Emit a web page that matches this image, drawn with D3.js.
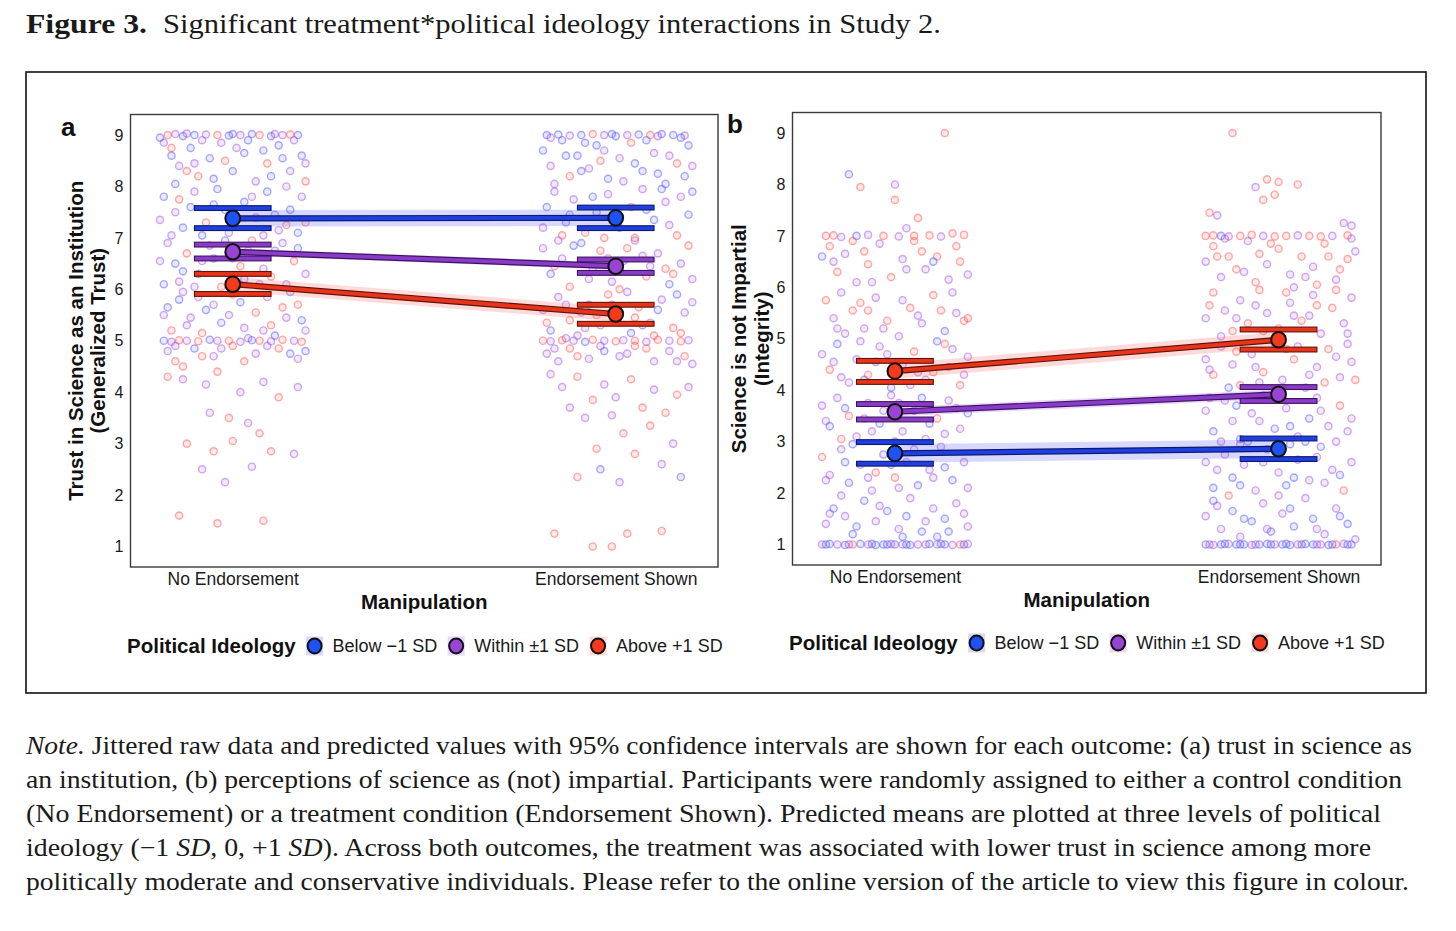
<!DOCTYPE html>
<html>
<head>
<meta charset="utf-8">
<script src="https://cdn.jsdelivr.net/npm/d3@7"></script>
<style>
  body { margin: 0; background: #fff; }
  svg { display: block; }
</style>
</head>
<body>
<svg id="fig"></svg>
<script>
const width = 1456,
  height = 931;

// categories
const conditionLabels = ["No Endorsement", "Endorsement Shown"];
const conditionValues = [1, 2];
const groupLabels = ["Below \u22121 SD", "Within \u00b11 SD", "Above +1 SD"];
const yTicks = [1, 2, 3, 4, 5, 6, 7, 8, 9];

// panel a: predicted means, error-bar ends and ribbon limits [NE, ES] per group (blue, purple, red)
const trustMeans = [[7.38, 7.39], [6.73, 6.45], [6.10, 5.52]];
const trustErrLo = [[7.19, 7.19], [6.60, 6.32], [5.91, 5.33]];
const trustErrHi = [[7.58, 7.59], [6.87, 6.58], [6.30, 5.70]];
const trustBandLo = [[7.22, 7.23], [6.66, 6.38], [5.96, 5.38]];
const trustBandHi = [[7.54, 7.55], [6.80, 6.52], [6.24, 5.66]];

// panel b
const impartMeans = [[2.77, 2.86], [3.58, 3.92], [4.37, 4.98]];
const impartErrLo = [[2.57, 2.66], [3.43, 3.79], [4.16, 4.79]];
const impartErrHi = [[2.99, 3.06], [3.73, 4.06], [4.57, 5.18]];
const impartBandLo = [[2.59, 2.68], [3.49, 3.83], [4.22, 4.83]];
const impartBandHi = [[2.95, 3.04], [3.67, 4.01], [4.52, 5.13]];

// jittered raw responses: [jittered condition, value, group]
const trustRaw = [
  [0.83,9,2],[0.85,9.02,1],[0.87,8.98,0],[0.9,9,0],[0.93,9.01,1],[0.96,9,2],[0.99,8.99,0],[1.02,9,1],[1.05,9.02,0],[1.07,9,2],[1.1,8.98,0],[1.13,9,1],[1.15,9.01,2],[1.17,9,0],[0.88,9.03,1],[1.0,9.02,0],[1.11,9.02,1],
  [0.82,8.85,1],[0.84,8.6,0],[0.86,8.4,1],[0.89,8.75,0],[0.91,8.2,2],[0.94,8.55,0],[0.97,8.85,1],[1.0,8.3,0],[1.03,8.65,0],[1.06,8.1,1],[1.09,8.45,2],[1.12,8.8,0],[1.15,8.3,1],[1.18,8.6,0],[0.85,8.05,0],[0.92,8.9,1],[0.98,8.5,2],[1.04,8.9,0],[1.1,8.2,0],[1.16,8.9,1],[0.88,8.3,2],[1.01,8.75,1],[1.13,8.55,0],[1.19,8.1,2],
  [0.81,8.95,0],[0.84,8.75,2],[0.9,8.45,1],[0.95,8.15,0],[1.08,8.7,0],[1.14,8.0,1],[1.19,8.45,1],
  [0.82,7.8,0],[0.85,7.5,1],[0.87,7.2,0],[0.9,7.9,1],[0.93,7.3,2],[0.95,7.65,0],[0.99,7.1,1],[1.03,7.7,0],[1.06,7.4,2],[1.09,7.9,0],[1.12,7.15,1],[1.15,7.55,0],[1.18,7.8,1],[0.84,7.05,1],[0.96,7.95,0],[1.01,7.35,0],[1.08,7.05,1],[1.14,7.25,2],[1.17,7.1,0],[0.89,7.6,0],
  [0.81,7.35,1],[0.86,7.75,2],[0.92,7.05,0],[0.98,7.55,1],[1.05,7.8,1],[1.11,7.45,0],[1.19,7.3,2],
  [0.83,6.9,1],[0.85,6.5,0],[0.86,6.15,1],[0.88,6.7,2],[0.91,6.3,0],[0.94,6.85,1],[0.97,6.05,2],[1.0,6.6,1],[1.03,6.2,0],[1.05,6.95,2],[1.08,6.4,1],[1.11,6.75,0],[1.14,6.1,1],[1.16,6.55,2],[1.19,6.3,1],[0.82,6.1,0],[0.92,6.55,1],[1.02,6.45,2],[1.07,6.1,1],[1.13,6.9,1],[0.98,6.95,0],
  [0.81,6.55,1],[0.87,6.35,0],[0.9,6.05,1],[0.95,6.6,0],[1.04,6.75,1],[1.1,6.25,2],[1.17,6.8,0],
  [0.82,5.5,1],[0.84,5.2,2],[0.86,5.8,0],[0.89,5.45,1],[0.92,5.15,2],[0.95,5.7,1],[0.97,5.35,0],[1.0,5.9,2],[1.03,5.25,1],[1.06,5.55,2],[1.09,5.85,1],[1.11,5.1,0],[1.14,5.45,1],[1.17,5.7,2],[1.19,5.2,1],[0.87,5.95,1],[0.93,5.6,0],[1.04,5.05,1],[1.1,5.3,2],[1.15,5.95,0],
  [0.83,5.65,0],[0.88,5.3,1],[0.91,5.85,1],[0.99,5.5,1],[1.02,5.75,0],[1.08,5.2,1],[1.13,5.65,2],[1.18,5.4,0],
  [0.82,5,0],[0.84,4.98,1],[0.86,5.01,2],[0.88,5,1],[0.91,4.99,2],[0.94,5.02,0],[0.96,5,1],[0.99,5,2],[1.02,4.98,1],[1.05,5.01,0],[1.07,5,2],[1.1,4.99,1],[1.13,5.02,2],[1.16,5,1],[1.18,4.98,2],
  [0.83,4.8,1],[0.85,4.6,2],[0.9,4.85,0],[0.95,4.7,1],[1.0,4.9,2],[1.06,4.75,1],[1.12,4.85,2],[1.17,4.65,1],[1.19,4.8,0],[0.87,4.5,2],
  [0.85,4.9,1],[0.92,4.7,2],[0.97,4.85,1],[1.03,4.6,2],[1.09,4.9,1],[1.15,4.75,0],
  [0.83,4.3,2],[0.87,4.25,1],[0.93,4.15,1],[0.96,4.4,2],[1.02,4.0,1],[1.08,4.2,1],[1.12,3.9,2],[1.17,4.1,1],[0.94,3.6,1],[0.99,3.5,2],[1.04,3.4,1],[0.88,3.0,2],[1.0,3.05,2],[1.07,3.2,2],[0.95,2.85,2],[1.1,2.85,2],[1.16,2.8,1],[0.92,2.5,1],[1.05,2.55,1],[0.98,2.25,1],[0.86,1.6,2],[0.96,1.45,2],[1.08,1.5,2],
  [1.82,9,0],[1.85,9.01,0],[1.88,8.99,1],[1.91,9,0],[1.94,9.02,2],[1.97,9,1],[2.0,8.98,0],[2.03,9,1],[2.06,9.01,0],[2.09,9,2],[2.12,9.02,0],[2.15,9,0],[2.18,8.99,1],[1.99,9.02,0],[2.11,8.98,1],
  [1.81,8.7,0],[1.83,8.4,1],[1.86,8.9,0],[1.88,8.2,2],[1.9,8.6,0],[1.93,8.35,1],[1.95,8.8,0],[1.98,8.15,0],[2.01,8.55,1],[2.04,8.85,2],[2.07,8.3,0],[2.1,8.65,1],[2.13,8.05,0],[2.16,8.45,2],[2.19,8.8,0],[1.84,8.05,1],[1.92,8.85,0],[2.02,8.1,1],[2.08,8.9,0],[2.14,8.6,1],[2.18,8.2,0],[1.96,8.5,2],
  [1.83,8.95,1],[1.87,8.6,0],[1.91,8.3,0],[1.97,8.7,1],[2.05,8.45,0],[2.11,8.25,0],[2.17,8.95,0],[2.2,8.4,1],
  [1.82,7.6,0],[1.84,7.9,1],[1.87,7.3,0],[1.89,7.75,1],[1.92,7.1,2],[1.95,7.5,0],[1.98,7.85,1],[2.01,7.2,0],[2.04,7.6,2],[2.07,7.95,1],[2.1,7.35,0],[2.13,7.7,1],[2.16,7.05,2],[2.19,7.45,0],[1.86,7.05,2],[1.97,7.0,2],[2.05,7.0,2],[2.12,7.95,0],[2.17,7.8,1],
  [1.81,7.2,1],[1.88,7.45,0],[1.94,7.8,0],[2.0,7.4,1],[2.08,7.55,0],[2.14,7.25,1],[2.2,7.9,0],
  [1.81,6.8,1],[1.83,6.3,0],[1.86,6.6,1],[1.88,6.05,2],[1.91,6.9,0],[1.94,6.4,1],[1.96,6.75,2],[1.99,6.15,1],[2.02,6.55,0],[2.05,6.95,1],[2.08,6.25,2],[2.11,6.7,1],[2.14,6.1,0],[2.17,6.5,1],[2.19,6.85,2],[1.85,6.95,1],[1.93,6.2,1],[2.03,6.8,2],[2.09,6.45,1],[2.15,6.3,2],
  [1.84,6.45,2],[1.89,6.85,0],[1.98,6.6,1],[2.01,6.0,2],[2.07,6.65,1],[2.13,6.4,2],[2.2,6.2,1],
  [1.81,5.6,1],[1.83,5.2,0],[1.85,5.85,1],[1.88,5.4,2],[1.9,5.1,1],[1.93,5.7,0],[1.96,5.3,1],[1.98,5.9,2],[2.01,5.5,1],[2.04,5.15,0],[2.06,5.65,2],[2.09,5.35,1],[2.12,5.8,1],[2.15,5.25,2],[2.18,5.55,1],[1.87,5.05,1],[1.95,5.5,2],[2.03,5.95,1],[2.1,5.1,2],[2.16,5.9,0],[1.91,5.55,1],[2.07,5.3,0],
  [1.82,5.35,2],[1.87,5.7,1],[1.92,5.25,1],[1.99,5.7,1],[2.05,5.45,2],[2.11,5.6,0],[2.17,5.15,2],[2.2,5.75,1],
  [1.81,5,2],[1.83,4.99,1],[1.86,5.01,2],[1.89,5,1],[1.92,4.98,0],[1.94,5.02,2],[1.97,5,1],[2.0,4.99,2],[2.02,5.01,1],[2.05,5,2],[2.08,4.98,1],[2.11,5.02,2],[2.14,5,1],[2.17,4.99,2],[2.19,5.01,1],
  [1.82,4.75,1],[1.85,4.6,1],[1.88,4.85,2],[1.93,4.65,1],[1.97,4.8,0],[2.01,4.7,1],[2.05,4.9,2],[2.1,4.6,1],[2.14,4.8,1],[2.18,4.7,2],[2.2,4.55,1],
  [1.84,4.85,1],[1.9,4.7,2],[1.96,4.9,1],[2.03,4.75,1],[2.08,4.85,2],[2.16,4.6,1],
  [1.83,4.35,1],[1.86,4.1,1],[1.9,4.3,2],[1.94,3.85,2],[1.97,4.15,1],[2.0,3.9,1],[2.04,4.25,2],[2.07,3.7,2],[2.1,4.05,1],[2.13,3.6,2],[2.16,3.95,2],[2.19,4.1,1],[1.88,3.7,1],[1.92,3.5,1],[1.99,3.55,1],[2.02,3.2,2],[2.09,3.35,2],[2.15,3.0,1],[1.95,2.9,2],[2.05,2.8,2],[2.12,2.6,1],[1.96,2.5,0],[2.01,2.25,1],[2.17,2.35,0],[1.9,2.35,2],[1.84,1.25,2],[1.94,1.0,2],[1.99,1.0,2],[2.03,1.25,2],[2.12,1.3,2]
];

const impartRaw = [
  [0.88,8.2,0],[0.91,7.95,2],[1.0,8.0,1],[1.0,7.7,2],[1.13,9,2],[1.06,7.35,2],[1.03,7.15,1],
  [0.82,7,2],[0.84,7.01,2],[0.86,6.98,1],[0.9,7,0],[0.93,7.02,1],[0.97,7,2],[1.01,6.99,1],[1.05,7,2],[1.09,7.01,2],[1.12,6.99,1],[1.15,7.05,2],[1.18,7.02,2],
  [0.81,6.6,0],[0.83,6.8,2],[0.85,6.3,2],[0.87,6.65,1],[0.9,6.1,1],[0.93,6.45,2],[0.96,6.85,1],[0.99,6.2,2],[1.02,6.55,1],[1.05,6.9,2],[1.08,6.35,1],[1.11,6.6,2],[1.14,6.15,1],[1.17,6.5,2],[1.19,6.25,1],[0.89,6.9,2],[1.07,6.7,2],[1.1,6.5,0],[0.94,6.1,1],
  [0.84,6.5,1],[0.92,6.7,2],[1.03,6.35,1],[1.16,6.8,2],
  [0.82,5.75,2],[0.84,5.4,1],[0.87,5.1,1],[0.89,5.55,2],[0.92,5.2,1],[0.95,5.8,1],[0.98,5.35,2],[1.01,5.05,1],[1.04,5.6,2],[1.07,5.3,1],[1.1,5.85,2],[1.13,5.15,0],[1.16,5.5,1],[1.19,5.4,2],[0.86,5.9,1],[0.93,5.55,2],[1.02,5.75,1],[1.12,5.55,2],[1.18,5.35,2],[0.97,5.2,1],
  [0.85,5.2,1],[0.91,5.7,2],[1.06,5.45,1],[1.15,5.9,1],
  [0.81,4.7,1],[0.83,4.4,2],[0.85,4.9,0],[0.88,4.15,1],[0.9,4.6,1],[0.93,4.3,2],[0.96,4.85,1],[0.99,4.05,0],[1.02,4.5,1],[1.05,4.75,2],[1.08,4.2,1],[1.11,4.95,0],[1.14,4.45,1],[1.17,4.1,2],[1.19,4.65,1],[0.86,4.25,1],[0.95,4.55,0],[1.04,4.1,1],[1.1,4.35,2],[1.15,4.8,1],[0.91,4.95,1],
  [0.84,4.55,1],[0.92,4.2,0],[0.98,4.7,1],[1.06,4.35,1],[1.13,4.9,2],[1.18,4.3,1],
  [0.81,3.7,1],[0.83,3.3,0],[0.85,3.85,1],[0.88,3.5,2],[0.9,3.1,1],[0.93,3.75,1],[0.96,3.35,0],[0.99,3.9,1],[1.02,3.2,1],[1.05,3.6,0],[1.08,3.05,1],[1.11,3.45,2],[1.14,3.8,1],[1.17,3.25,1],[1.19,3.55,0],[0.86,3.05,2],[0.97,3.6,1],[1.07,3.85,0],[1.13,3.15,1],[0.92,3.45,1],[1.0,3.0,0],
  [0.82,3.4,1],[0.87,3.65,0],[0.94,3.2,1],[1.01,3.75,1],[1.09,3.35,0],[1.16,3.65,1],
  [0.81,2.7,2],[0.83,2.35,1],[0.86,2.85,1],[0.88,2.2,0],[0.91,2.55,1],[0.94,2.05,1],[0.97,2.75,0],[1.0,2.3,2],[1.03,2.6,1],[1.06,2.15,0],[1.09,2.45,1],[1.12,2.9,1],[1.15,2.25,0],[1.18,2.6,1],[0.89,2.95,0],[1.01,2.1,1],[1.1,2.3,1],[0.95,2.4,2],
  [0.82,2.25,1],[0.87,2.6,0],[0.93,2.3,1],[0.99,2.55,0],[1.05,2.85,1],[1.13,2.5,0],[1.19,2.1,1],
  [0.82,1.4,1],[0.84,1.7,0],[0.87,1.55,1],[0.89,1.2,0],[0.92,1.85,0],[0.95,1.45,1],[0.98,1.65,0],[1.01,1.3,1],[1.04,1.9,1],[1.07,1.25,0],[1.1,1.7,1],[1.13,1.5,0],[1.16,1.8,1],[1.19,1.35,1],[0.86,1.95,1],[1.03,1.55,0],[1.11,1.15,0],
  [0.83,1.6,1],[0.9,1.35,0],[0.96,1.75,1],[1.02,1.15,0],[1.08,1.45,1],[1.14,1.25,0],[1.18,1.6,1],
  [0.81,1,1],[0.83,1.01,0],[0.85,1,1],[0.87,0.99,0],[0.89,1,2],[0.91,1.01,0],[0.93,1,1],[0.95,0.99,0],[0.97,1,0],[0.99,1.01,1],[1.0,1,0],[1.02,1,1],[1.04,0.99,0],[1.06,1,1],[1.09,1.01,0],[1.11,1,1],[1.13,1,0],[1.15,0.99,1],[1.17,1,2],[1.19,1.01,1],
  [0.82,1.0,0],[0.88,1.0,1],[0.94,1.01,0],[0.98,1.0,0],[1.03,1.0,0],[1.08,1.0,1],[1.12,1.01,0],[1.18,1.0,0],
  [1.88,9,2],[1.94,7.95,1],[1.97,8.1,2],[2.0,8.05,2],[1.99,7.8,2],[1.96,7.7,2],[2.05,8.0,2],[1.82,7.45,2],[1.84,7.4,1],[2.17,7.25,1],[2.19,7.2,1],
  [1.81,7,2],[1.83,7.01,2],[1.85,7,0],[1.87,6.99,1],[1.9,7,2],[1.93,7.02,2],[1.96,7,1],[1.99,6.99,2],[2.02,7,2],[2.05,7.01,1],[2.08,7,2],[2.11,6.99,2],[2.14,7,1],[2.18,7.01,2],
  [1.81,6.5,1],[1.83,6.8,2],[1.85,6.2,1],[1.87,6.6,2],[1.89,6.35,2],[1.92,6.9,1],[1.94,6.1,2],[1.97,6.45,1],[2.0,6.75,2],[2.03,6.25,1],[2.06,6.6,2],[2.09,6.4,1],[2.12,6.85,2],[2.15,6.15,1],[2.18,6.55,2],[2.2,6.7,1],[1.86,6.95,1],[1.95,6.65,2],[2.04,6.0,1],[2.1,6.05,2],[2.16,6.35,2],
  [1.84,6.6,2],[1.91,6.3,1],[1.98,6.85,2],[2.07,6.2,1],[2.13,6.6,2],[2.19,6.95,1],
  [1.81,5.4,1],[1.83,5.9,2],[1.86,5.55,1],[1.88,5.15,2],[1.9,5.75,1],[1.92,5.3,2],[1.95,5.95,2],[1.97,5.5,1],[2.0,5.2,2],[2.03,5.7,1],[2.06,5.35,2],[2.09,5.85,1],[2.11,5.1,1],[2.14,5.6,2],[2.17,5.3,1],[2.19,5.8,1],[1.85,5.05,1],[1.94,5.65,1],[2.02,5.9,2],[2.08,5.45,1],[2.15,5.95,2],
  [1.82,5.65,2],[1.89,5.4,1],[1.96,5.15,2],[2.04,5.45,1],[2.1,5.65,2],[2.18,5.1,1],
  [1.81,4.6,1],[1.83,4.3,2],[1.85,4.85,1],[1.88,4.5,1],[1.9,4.1,2],[1.93,4.7,1],[1.96,4.35,2],[1.99,4.9,1],[2.01,4.2,1],[2.04,4.6,2],[2.07,4.05,1],[2.1,4.45,1],[2.13,4.8,2],[2.16,4.25,1],[2.19,4.55,1],[1.87,4.05,0],[1.95,4.15,1],[2.05,4.85,1],[2.12,4.15,2],[2.18,4.9,1],
  [1.82,4.4,1],[1.89,4.75,2],[1.94,4.45,1],[2.02,4.8,2],[2.08,4.3,1],[2.15,4.65,1],[2.2,4.2,2],
  [1.81,3.6,1],[1.83,3.2,0],[1.86,3.8,1],[1.88,3.4,1],[1.9,3.05,0],[1.93,3.55,1],[1.96,3.9,1],[1.99,3.25,0],[2.02,3.65,1],[2.05,3.1,1],[2.08,3.45,0],[2.1,3.85,1],[2.13,3.3,1],[2.16,3.7,2],[2.19,3.45,1],[1.85,3.0,1],[1.92,3.0,0],[2.0,3.0,1],[2.07,3.0,0],[2.15,3.0,1],
  [1.82,3.85,1],[1.89,3.7,0],[1.95,3.4,1],[2.03,3.3,0],[2.11,3.6,1],[2.18,3.2,1],
  [1.81,2.6,1],[1.83,2.1,0],[1.86,2.75,1],[1.88,2.3,0],[1.91,2.55,1],[1.94,2.05,1],[1.97,2.85,0],[2.0,2.4,1],[2.02,2.15,0],[2.05,2.65,1],[2.08,2.25,1],[2.11,2.9,0],[2.14,2.45,1],[2.17,2.05,2],[2.19,2.6,1],[1.9,2.95,1],[2.03,2.95,0],[2.12,2.2,1],
  [1.84,2.45,1],[1.9,2.15,0],[1.96,2.6,1],[2.04,2.3,0],[2.1,2.7,1],[2.16,2.35,0],
  [1.81,1.55,1],[1.83,1.85,0],[1.85,1.3,1],[1.88,1.65,0],[1.9,1.15,1],[1.93,1.45,0],[1.96,1.8,1],[1.98,1.25,0],[2.01,1.6,1],[2.04,1.35,0],[2.07,1.9,1],[2.09,1.5,0],[2.12,1.2,1],[2.15,1.7,1],[2.18,1.4,0],[2.2,1.1,1],[1.87,1.95,2],[2.0,1.95,1],
  [1.84,1.75,1],[1.91,1.5,0],[1.97,1.3,1],[2.03,1.7,0],[2.1,1.3,1],[2.16,1.55,0],
  [1.81,1,0],[1.83,0.99,1],[1.85,1,0],[1.87,1.01,1],[1.89,1,0],[1.91,1,0],[1.93,0.99,1],[1.95,1,0],[1.97,1.01,0],[1.99,1,1],[2.01,1,0],[2.03,0.99,0],[2.05,1,1],[2.07,1.01,0],[2.09,1,0],[2.11,1,1],[2.13,0.99,0],[2.15,1,2],[2.17,1.01,1],[2.19,1,0],
  [1.82,1.0,1],[1.86,1.01,0],[1.9,1.0,0],[1.94,1.0,1],[1.98,1.0,0],[2.02,1.01,0],[2.06,1.0,0],[2.1,1.0,1],[2.14,1.0,0],[2.18,1.0,0]
];

// text
const figureLabel = "Figure 3.";
const figureTitle = "Significant treatment*political ideology interactions in Study 2.";
const noteLines = [
  [["Note.", true], [" Jittered raw data and predicted values with 95% confidence intervals are shown for each outcome: (a) trust in science as", false]],
  [["an institution, (b) perceptions of science as (not) impartial. Participants were randomly assigned to either a control condition", false]],
  [["(No Endorsement) or a treatment condition (Endorsement Shown). Predicted means are plotted at three levels of political", false]],
  [["ideology (\u22121 ", false], ["SD", true], [", 0, +1 ", false], ["SD", true], ["). Across both outcomes, the treatment was associated with lower trust in science among more", false]],
  [["politically moderate and conservative individuals. Please refer to the online version of the article to view this figure in colour.", false]]
];

// styles
const dotColor = ["rgba(70,70,255,0.45)", "rgba(150,70,225,0.45)", "rgba(255,70,70,0.45)"];
const dotFill = ["rgba(90,90,255,0.14)", "rgba(160,90,230,0.14)", "rgba(255,90,90,0.14)"];
const mainColor = ["#1f3fe0", "#8a3cc8", "#e8341a"];
const pointFill = ["#1d52f5", "#9a44d6", "#f4391c"];
const darkColor = ["#0b1a6e", "#3d1260", "#5e1306"];
const bandColor = ["rgba(90,90,255,0.24)", "rgba(160,90,230,0.24)", "rgba(255,100,100,0.24)"];
const sans = "'Liberation Sans', Arial, sans-serif";
const serif = "'Liberation Serif', 'Times New Roman', serif";

const svg = d3
  .select("#fig")
  .attr("width", width)
  .attr("height", height)
  .attr("viewBox", `0 0 ${width} ${height}`);

svg.append("rect").attr("width", width).attr("height", height).attr("fill", "#fff");

// heading
svg
  .append("text")
  .attr("x", 26)
  .attr("y", 33)
  .attr("font-family", serif)
  .attr("font-weight", "bold")
  .attr("font-size", 27)
  .attr("textLength", 121)
  .attr("lengthAdjust", "spacingAndGlyphs")
  .attr("fill", "#1a1a1a")
  .text(figureLabel);

svg
  .append("text")
  .attr("x", 163)
  .attr("y", 33)
  .attr("font-family", serif)
  .attr("font-size", 27)
  .attr("textLength", 778)
  .attr("lengthAdjust", "spacingAndGlyphs")
  .attr("fill", "#1a1a1a")
  .text(figureTitle);

// outer frame
svg
  .append("rect")
  .attr("x", 26)
  .attr("y", 72)
  .attr("width", 1400)
  .attr("height", 621)
  .attr("fill", "none")
  .attr("stroke", "#111")
  .attr("stroke-width", 1.6);

function drawPanel(cfg) {
  const g = svg.append("g");

  const x = d3.scaleLinear().domain([0.733, 2.267]).range([cfg.left, cfg.right]);
  const y = d3.scaleLinear().domain([0.6, 9.4]).range([cfg.bottom, cfg.top]);
  const unit = x(2) - x(1);

  // raw jittered data
  g.append("g")
    .selectAll("circle")
    .data(cfg.raw)
    .join("circle")
    .attr("cx", (d) => x(d[0]))
    .attr("cy", (d) => y(d[1]))
    .attr("r", 3.6)
    .attr("fill", (d) => dotFill[d[2]])
    .attr("stroke", (d) => dotColor[d[2]])
    .attr("stroke-width", 1.4);

  const groups = d3.range(groupLabels.length);

  // confidence ribbons
  const area = d3
    .area()
    .x((d) => x(d.c))
    .y0((d) => y(d.lo))
    .y1((d) => y(d.hi));

  g.append("g")
    .selectAll("path")
    .data(groups)
    .join("path")
    .attr("d", (gi) =>
      area(conditionValues.map((c, ci) => ({ c, lo: cfg.bandLo[gi][ci], hi: cfg.bandHi[gi][ci] })))
    )
    .attr("fill", (gi) => bandColor[gi]);

  // prediction lines, outlined
  const line = d3
    .line()
    .x((d) => x(d.c))
    .y((d) => y(d.v));

  groups.forEach((gi) => {
    const pts = conditionValues.map((c, ci) => ({ c, v: cfg.means[gi][ci] }));
    g.append("path").attr("d", line(pts)).attr("fill", "none").attr("stroke", darkColor[gi]).attr("stroke-width", 6.2);
    g.append("path").attr("d", line(pts)).attr("fill", "none").attr("stroke", mainColor[gi]).attr("stroke-width", 3.8);
  });

  // error-bar caps
  const capHalf = 0.1 * unit;
  const caps = [];
  groups.forEach((gi) =>
    conditionValues.forEach((c, ci) => {
      caps.push({ gi, c, v: cfg.errLo[gi][ci] });
      caps.push({ gi, c, v: cfg.errHi[gi][ci] });
    })
  );
  g.append("g")
    .selectAll("rect")
    .data(caps)
    .join("rect")
    .attr("x", (d) => x(d.c) - capHalf)
    .attr("y", (d) => y(d.v) - 2.4)
    .attr("width", capHalf * 2)
    .attr("height", 4.8)
    .attr("fill", (d) => mainColor[d.gi])
    .attr("stroke", (d) => darkColor[d.gi])
    .attr("stroke-width", 1.1);

  // predicted means
  const means = [];
  groups.forEach((gi) => conditionValues.forEach((c, ci) => means.push({ gi, c, v: cfg.means[gi][ci] })));
  g.append("g")
    .selectAll("ellipse")
    .data(means)
    .join("ellipse")
    .attr("cx", (d) => x(d.c))
    .attr("cy", (d) => y(d.v))
    .attr("rx", 7.4)
    .attr("ry", 7.8)
    .attr("fill", (d) => pointFill[d.gi])
    .attr("stroke", "#111")
    .attr("stroke-width", 2);

  // panel border
  g.append("rect")
    .attr("x", cfg.left)
    .attr("y", cfg.top)
    .attr("width", cfg.right - cfg.left)
    .attr("height", cfg.bottom - cfg.top)
    .attr("fill", "none")
    .attr("stroke", "#3a3a3a")
    .attr("stroke-width", 1.4);

  // axes
  const yAxis = g
    .append("g")
    .attr("transform", `translate(${cfg.left},0)`)
    .call(d3.axisLeft(y).tickValues(yTicks).tickSize(0).tickPadding(7));
  yAxis.select(".domain").remove();
  yAxis.selectAll("text").style("font-family", sans).style("font-size", "16px").attr("fill", "#1a1a1a");

  const xAxis = g
    .append("g")
    .attr("transform", `translate(0,${cfg.bottom})`)
    .call(
      d3
        .axisBottom(x)
        .tickValues(conditionValues)
        .tickFormat((d, i) => conditionLabels[i])
        .tickSize(0)
        .tickPadding(6)
    );
  xAxis.select(".domain").remove();
  xAxis.selectAll("text").style("font-family", sans).style("font-size", "17.5px").attr("fill", "#1a1a1a");

  // axis titles
  const cy = (cfg.top + cfg.bottom) / 2;
  cfg.yTitle.forEach((t, i) => {
    g.append("text")
      .attr("transform", `translate(${cfg.yTitleX[i]},${cy}) rotate(-90)`)
      .attr("text-anchor", "middle")
      .attr("font-family", sans)
      .attr("font-weight", "bold")
      .attr("font-size", 20.5)
      .attr("fill", "#111")
      .text(t);
  });

  g.append("text")
    .attr("x", (cfg.left + cfg.right) / 2)
    .attr("y", cfg.bottom + 42)
    .attr("text-anchor", "middle")
    .attr("font-family", sans)
    .attr("font-weight", "bold")
    .attr("font-size", 20.5)
    .attr("fill", "#111")
    .text("Manipulation");

  // panel letter
  g.append("text")
    .attr("x", cfg.letterX)
    .attr("y", cfg.letterY)
    .attr("font-family", sans)
    .attr("font-weight", "bold")
    .attr("font-size", 26)
    .attr("fill", "#111")
    .text(cfg.letter);

  // legend
  const lg = g.append("g").attr("transform", `translate(${cfg.legendX},${cfg.legendY})`);
  const title = lg
    .append("text")
    .attr("x", 0)
    .attr("y", 7.3)
    .attr("font-family", sans)
    .attr("font-weight", "bold")
    .attr("font-size", 20.5)
    .attr("fill", "#111")
    .text("Political Ideology");
  let cursor = title.node().getComputedTextLength();
  groups.forEach((gi) => {
    const kx = cursor + 19;
    lg.append("rect")
      .attr("x", kx - 8.5)
      .attr("y", -9.5)
      .attr("width", 17)
      .attr("height", 19)
      .attr("fill", bandColor[gi]);
    lg.append("ellipse")
      .attr("cx", kx)
      .attr("cy", 0)
      .attr("rx", 7)
      .attr("ry", 7.4)
      .attr("fill", pointFill[gi])
      .attr("stroke", "#111")
      .attr("stroke-width", 2);
    const lab = lg
      .append("text")
      .attr("x", kx + 18)
      .attr("y", 6.3)
      .attr("font-family", sans)
      .attr("font-size", 18)
      .attr("fill", "#1a1a1a")
      .text(groupLabels[gi]);
    cursor = kx + 18 + lab.node().getComputedTextLength();
  });
}

drawPanel({
  left: 130.5, right: 718, top: 114.5, bottom: 567,
  raw: trustRaw,
  means: trustMeans, errLo: trustErrLo, errHi: trustErrHi, bandLo: trustBandLo, bandHi: trustBandHi,
  yTitle: ["Trust in Science as an Institution", "(Generalized Trust)"],
  yTitleX: [83, 105],
  letter: "a", letterX: 61, letterY: 136,
  legendX: 127, legendY: 646
});

drawPanel({
  left: 792.5, right: 1381, top: 112.5, bottom: 565,
  raw: impartRaw,
  means: impartMeans, errLo: impartErrLo, errHi: impartErrHi, bandLo: impartBandLo, bandHi: impartBandHi,
  yTitle: ["Science is not Impartial", "(Integrity)"],
  yTitleX: [746, 769],
  letter: "b", letterX: 727, letterY: 133,
  legendX: 789, legendY: 643
});

// note under the figure
const noteEnds = [1412, 1402, 1381, 1371, 1409];
noteLines.forEach((segs, i) => {
  const t = svg
    .append("text")
    .attr("x", 26)
    .attr("y", 754 + i * 34)
    .attr("font-family", serif)
    .attr("font-size", 25)
    .attr("fill", "#1a1a1a")
    .attr("textLength", noteEnds[i] - 26)
    .attr("lengthAdjust", "spacingAndGlyphs");
  segs.forEach(([s, it]) => {
    t.append("tspan").attr("font-style", it ? "italic" : "normal").text(s);
  });
});
</script>
</body>
</html>
